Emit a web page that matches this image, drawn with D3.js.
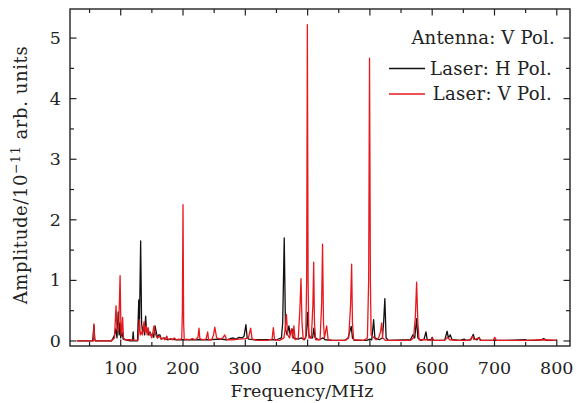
<!DOCTYPE html>
<html>
<head>
<meta charset="utf-8">
<script src="https://cdn.jsdelivr.net/npm/d3@7"></script>
<style>
  body { margin: 0; background: #fff; }
  text { font-family: "DejaVu Serif", serif; fill: #222; }
</style>
</head>
<body>
<div id="chart"></div>
<script>
var width = 584,
    height = 403;

// Laser: H Pol. (black)
var hFreq = [30, 55, 57, 58.5, 59, 85, 88, 90, 92, 94, 96, 97.5, 99, 100, 102, 104, 108, 115, 119, 120, 121, 127, 129, 130, 132, 133.5, 135, 137, 138.5, 140, 141.5, 143, 145, 147, 149, 151, 153, 155, 157, 159, 161, 163, 165, 170, 175, 180, 190, 200, 210, 220, 240, 260, 270, 280, 285, 290, 295, 298, 301, 303, 306, 315, 330, 350, 358, 360, 362.5, 364.5, 367, 370, 372, 375, 377, 385, 390, 395, 398, 400, 402, 405, 408, 410, 412, 418, 425, 428, 440, 460, 465, 470, 472, 475, 495, 500, 503, 506, 508, 515, 520, 522, 524, 526, 530, 565, 569, 572, 575, 577, 582, 587, 590, 592, 598, 600, 602, 620, 624, 626, 629, 632, 645, 651, 655, 662, 666, 668, 672, 675, 678, 700, 720, 750, 752, 765, 775, 779, 783, 800];
var hAmp = [0, 0, 0.26, 0.02, 0, 0, 0.05, 0.1, 0.2, 0.05, 0.48, 0.1, 0.3, 0.05, 0.15, 0.03, 0.02, 0, 0, 0.15, 0, 0, 0.68, 0.2, 1.65, 0.3, 0.15, 0.25, 0.1, 0.41, 0.15, 0.2, 0.1, 0.15, 0.08, 0.12, 0.06, 0.25, 0.15, 0.05, 0.1, 0.1, 0.03, 0.05, 0.02, 0.03, 0.02, 0.02, 0.02, 0.02, 0.02, 0.03, 0.02, 0.05, 0.03, 0.06, 0.05, 0.08, 0.27, 0.05, 0.03, 0.02, 0.02, 0.02, 0.05, 0.3, 1.7, 0.2, 0.1, 0.25, 0.1, 0.2, 0.05, 0.03, 0.05, 0.02, 0.1, 0.47, 0.1, 0.05, 0.05, 0.21, 0.05, 0.02, 0.05, 0.02, 0.01, 0.01, 0.05, 0.24, 0.05, 0.01, 0.01, 0.03, 0.02, 0.35, 0.05, 0.02, 0.05, 0.3, 0.7, 0.05, 0.01, 0.02, 0.1, 0.05, 0.37, 0.05, 0.01, 0.03, 0.15, 0.02, 0.02, 0.06, 0.01, 0.01, 0.16, 0.05, 0.1, 0.02, 0.01, 0.03, 0.01, 0.02, 0.11, 0.03, 0.02, 0.06, 0.01, 0.01, 0.01, 0.02, 0.01, 0.01, 0.02, 0.04, 0.01, 0.01];

// Laser: V Pol. (red)
var vFreq = [30, 56, 57, 58, 60, 85, 90, 92.5, 94, 96, 97, 99, 100.5, 102, 103, 104.5, 107, 115, 125, 128, 130, 131.5, 133, 135, 137.5, 139, 141, 142.5, 144, 146, 148, 150, 153.5, 155, 157, 159, 162, 165, 168, 171, 174, 176, 180, 183, 186, 189, 193, 196, 198, 199, 200, 201, 202, 206, 210, 215, 220, 224, 225.7, 227, 232, 237, 239.6, 241, 246, 249, 251, 254, 260, 264, 267, 270, 280, 290, 300, 305, 308.6, 311, 320, 335, 343, 345, 347, 355, 362, 364, 366, 368, 371, 374, 376, 378, 380, 385, 387.5, 389.4, 391, 393, 397, 398.5, 399.6, 400.8, 402, 406, 408.5, 409.8, 411, 413, 420, 422.5, 424, 425.5, 427, 430.6, 433, 440, 460, 466, 469, 470.7, 472, 474, 490, 496, 498, 499.4, 500.8, 502, 510, 514, 517, 519, 520.5, 525, 565, 570, 573, 575, 577, 579, 590, 598, 600, 602, 620, 625, 628, 640, 660, 665, 667, 675, 677, 698, 700.5, 703, 750, 780, 800];
var vAmp = [0, 0, 0.28, 0.02, 0, 0, 0.05, 0.58, 0.2, 0.15, 0.3, 1.08, 0.1, 0.2, 0.39, 0.05, 0.02, 0.02, 0.01, 0.02, 0.35, 0.1, 0.15, 0.1, 0.32, 0.15, 0.25, 0.1, 0.22, 0.1, 0.12, 0.05, 0.25, 0.15, 0.08, 0.05, 0.08, 0.03, 0.05, 0.02, 0.08, 0.02, 0.04, 0.02, 0.05, 0.02, 0.03, 0.02, 0.05, 0.5, 2.25, 0.3, 0.02, 0.03, 0.02, 0.04, 0.02, 0.06, 0.21, 0.04, 0.02, 0.03, 0.15, 0.02, 0.02, 0.1, 0.23, 0.05, 0.03, 0.05, 0.1, 0.02, 0.02, 0.03, 0.04, 0.05, 0.21, 0.03, 0.01, 0.01, 0.03, 0.22, 0.02, 0.01, 0.05, 0.2, 0.44, 0.1, 0.05, 0.2, 0.05, 0.25, 0.02, 0.05, 0.5, 1.03, 0.3, 0.02, 0.05, 1.0, 5.22, 1.0, 0.05, 0.05, 0.6, 1.3, 0.3, 0.02, 0.02, 0.6, 1.6, 0.3, 0.05, 0.25, 0.02, 0.01, 0.01, 0.05, 0.6, 1.27, 0.3, 0.02, 0.01, 0.05, 1.0, 4.67, 1.0, 0.1, 0.02, 0.05, 0.15, 0.3, 0.05, 0.01, 0.01, 0.05, 0.4, 0.97, 0.3, 0.02, 0.02, 0.01, 0.05, 0.01, 0.01, 0.06, 0.02, 0.01, 0.01, 0.08, 0.02, 0.05, 0.01, 0.01, 0.06, 0.01, 0.01, 0.02, 0.01];

var xTicks = [100, 200, 300, 400, 500, 600, 700, 800];
var xMinor = [50, 150, 250, 350, 450, 550, 650, 750];
var yTicks = [0, 1, 2, 3, 4, 5];
var yMinor = [0.5, 1.5, 2.5, 3.5, 4.5];

var legendLabels = ['Laser: H Pol.', 'Laser: V Pol.'];
var legendColors = ['#111', '#e8191e'];

var pLeft = 70, pRight = 570, pTop = 9, pBottom = 346;

var x = d3.scaleLinear().domain([18.6, 821.2]).range([pLeft, pRight]);
var y = d3.scaleLinear().domain([-0.083, 5.48]).range([pBottom, pTop]);

var svg = d3.select('#chart').append('svg')
    .attr('width', width)
    .attr('height', height);

var line = d3.line()
    .x(function (d) { return x(d[0]); })
    .y(function (d) { return y(d[1]); });

var hData = hFreq.map(function (f, i) { return [f, hAmp[i]]; });
var vData = vFreq.map(function (f, i) { return [f, vAmp[i]]; });

svg.append('path')
    .datum(hData)
    .attr('d', line)
    .attr('fill', 'none')
    .attr('stroke', legendColors[0])
    .attr('stroke-width', 1.3)
    .attr('stroke-linejoin', 'round');

svg.append('path')
    .datum(vData)
    .attr('d', line)
    .attr('fill', 'none')
    .attr('stroke', legendColors[1])
    .attr('stroke-width', 1.3)
    .attr('stroke-linejoin', 'round');

// ticks, inward on all four sides
function ticks(g, scale, values, len, orient) {
    values.forEach(function (v) {
        var p = scale(v);
        if (orient === 'x') {
            g.append('line').attr('x1', p).attr('x2', p).attr('y1', pBottom).attr('y2', pBottom - len);
            g.append('line').attr('x1', p).attr('x2', p).attr('y1', pTop).attr('y2', pTop + len);
        } else {
            g.append('line').attr('y1', p).attr('y2', p).attr('x1', pLeft).attr('x2', pLeft + len);
            g.append('line').attr('y1', p).attr('y2', p).attr('x1', pRight).attr('x2', pRight - len);
        }
    });
}

var tg = svg.append('g').attr('stroke', '#222').attr('stroke-width', 1.2);
ticks(tg, x, xTicks, 6.5, 'x');
ticks(tg, x, xMinor, 4, 'x');
ticks(tg, y, yTicks, 6.5, 'y');
ticks(tg, y, yMinor, 4, 'y');

svg.append('rect')
    .attr('x', pLeft).attr('y', pTop)
    .attr('width', pRight - pLeft).attr('height', pBottom - pTop)
    .attr('fill', 'none')
    .attr('stroke', '#222')
    .attr('stroke-width', 1.4);

svg.append('g').selectAll('text')
    .data(xTicks)
    .enter().append('text')
    .attr('x', function (d) { return x(d); })
    .attr('y', 374)
    .attr('text-anchor', 'middle')
    .style('font-size', '17.5px')
    .text(function (d) { return d; });

svg.append('g').selectAll('text')
    .data(yTicks)
    .enter().append('text')
    .attr('x', 61)
    .attr('y', function (d) { return y(d) + 6; })
    .attr('text-anchor', 'end')
    .style('font-size', '17.5px')
    .text(function (d) { return d; });

svg.append('text')
    .attr('x', 302)
    .attr('y', 397)
    .attr('text-anchor', 'middle')
    .style('font-size', '17.5px')
    .text('Frequency/MHz');

var yl = svg.append('text')
    .attr('transform', 'translate(27,175) rotate(-90)')
    .attr('text-anchor', 'middle')
    .style('font-size', '18px')
    .style('letter-spacing', '0.6px');
yl.append('tspan').text('Amplitude/10');
yl.append('tspan').attr('dy', -7).style('font-size', '12.5px').text('\u221211');
yl.append('tspan').attr('dy', 7).text(' arb. units');

svg.append('text')
    .attr('x', 555)
    .attr('y', 44)
    .attr('text-anchor', 'end')
    .style('font-size', '18px')
    .style('letter-spacing', '0.2px')
    .text('Antenna: V Pol.');

var lg = svg.append('g').selectAll('g')
    .data(legendLabels)
    .enter().append('g')
    .attr('transform', function (d, i) { return 'translate(0,' + (68.5 + i * 25.5) + ')'; });

lg.append('line')
    .attr('x1', 389).attr('x2', 425)
    .attr('stroke', function (d, i) { return legendColors[i]; })
    .attr('stroke-width', 1.3);

lg.append('text')
    .attr('x', 552)
    .attr('y', 6)
    .attr('text-anchor', 'end')
    .style('font-size', '18px')
    .style('letter-spacing', '0.3px')
    .text(function (d) { return d; });
</script>
</body>
</html>
